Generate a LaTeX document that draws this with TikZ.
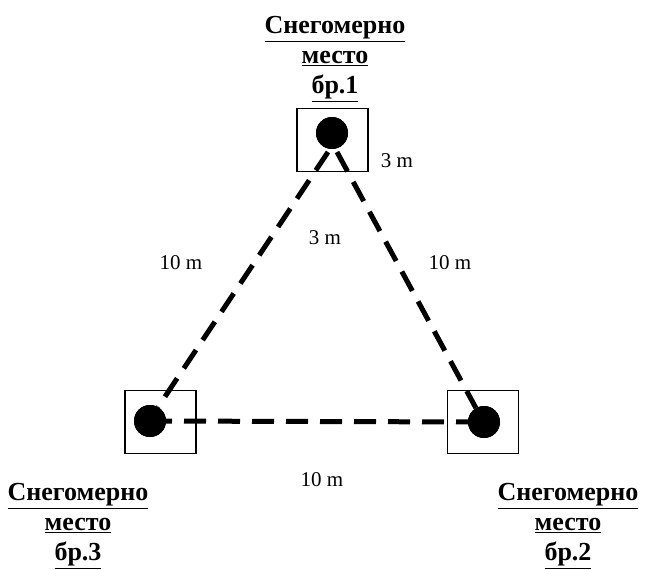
\documentclass[tikz,border=0pt]{standalone}
\usepackage{fontspec}
\setmainfont{Liberation Serif}
\begin{document}
\begin{tikzpicture}[x=1pt,y=-1pt,
  site/.style={draw,line width=1.2pt,minimum width=71pt,minimum height=63pt,inner sep=0pt},
  dot/.style={circle,fill=black,minimum size=32pt,inner sep=0pt},
  link/.style={line width=5pt,dash pattern=on 22pt off 12pt},
  dist/.style={font=\fontsize{21}{23}\selectfont},
  title/.style={align=center,font=\fontsize{26}{30}\selectfont\bfseries}]
\useasboundingbox (0,0) rectangle (648,570);

% measuring sites
\node[site] (b1) at (332.5,140) {};
\node[site] (b3) at (160.5,422) {};
\node[site] (b2) at (483,422) {};
\node[dot] (d1) at (332,133) {};
\node[dot] (d3) at (150,421) {};
\node[dot] (d2) at (484,422) {};

% connections between the sites
\coordinate (t1) at (328,152);
\coordinate (t2) at (337,152);
\draw[link] (t1) -- (d3.60);
\draw[link] (t2) -- (d2.120);
\draw[link] (d3.center) -- (d2.center);
\node[dot] at (d3) {};
\node[dot] at (d2) {};
\node[dot] at (d1) {};

% distances
\node[dist] (m1) at (397,161) {3 m};
\node[dist] (m2) at (325,238) {3 m};
\node[dist] (m3) at (181,263) {10 m};
\node[dist] (m4) at (450,263) {10 m};
\node[dist] (m5) at (322,480) {10 m};

% titles
\node[title] (n1) at (335,59) {\underline{Снегомерно}\\\underline{место}\\\underline{бр.1}};
\node[title] (n3) at (78,526) {\underline{Снегомерно}\\\underline{место}\\\underline{бр.3}};
\node[title] (n2) at (568,526) {\underline{Снегомерно}\\\underline{место}\\\underline{бр.2}};
\end{tikzpicture}
\end{document}
